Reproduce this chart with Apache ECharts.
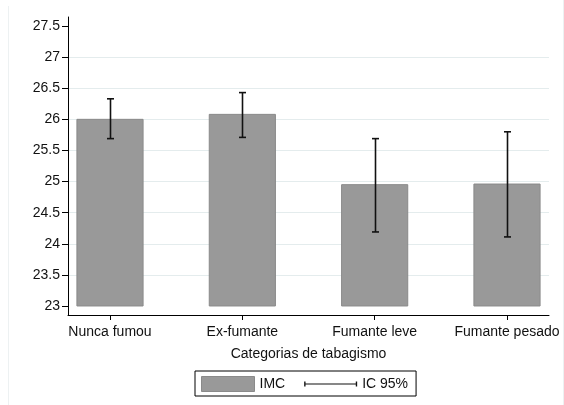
<!DOCTYPE html>
<html>
<head>
<meta charset="utf-8">
<script src="https://cdn.jsdelivr.net/npm/echarts@6/dist/echarts.min.js"></script>
<style>
  html, body { margin: 0; padding: 0; background: #fff; }
  #chart { width: 564px; height: 405px; }
</style>
</head>
<body>
<div id="chart"></div>
<script>
// Mean BMI (IMC) by smoking category, with 95% confidence intervals
const categories = ['Nunca fumou', 'Ex-fumante', 'Fumante leve', 'Fumante pesado'];
const imcMeans = [26.00, 26.08, 24.95, 24.96];
const ciLower = [25.69, 25.71, 24.19, 24.11];
const ciUpper = [26.33, 26.43, 25.69, 25.80];
const yTickValues = [23, 23.5, 24, 24.5, 25, 25.5, 26, 26.5, 27, 27.5];
const gridLineValues = [23.5, 24, 24.5, 25, 25.5, 26, 26.5, 27];
const barBase = 23;

const FONT = "'Liberation Sans', Arial, Helvetica, sans-serif";
const TEXT = '#111';

const chart = echarts.init(document.getElementById('chart'), null, { renderer: 'canvas' });

const categoryIdx = categories.map((_, i) => i);

const option = {
  backgroundColor: '#fff',
  animation: false,
  textStyle: { fontFamily: FONT },
  graphic: [
    { type: 'line', shape: { x1: 8.5, y1: 6, x2: 8.5, y2: 405 }, style: { stroke: '#edf1f2', lineWidth: 1 }, silent: true },
    { type: 'line', shape: { x1: 563.5, y1: 0, x2: 563.5, y2: 405 }, style: { stroke: '#edf1f2', lineWidth: 1 }, silent: true }
  ],
  grid: { left: 68, right: 15, top: 17, bottom: 90, containLabel: false },
  legend: {
    left: 195,
    top: 371,
    orient: 'horizontal',
    padding: [5, 8, 4, 6],
    borderColor: '#000',
    borderWidth: 1,
    borderRadius: 0,
    itemWidth: 53,
    itemHeight: 15,
    itemGap: 19,
    selectedMode: false,
    textStyle: { fontFamily: FONT, fontSize: 14, color: TEXT },
    data: [
      { name: 'IMC', icon: 'rect', itemStyle: { color: '#999999', borderColor: '#8a8a8a', borderWidth: 1 } },
      { name: 'IC 95%', icon: 'path://M0,0h1.4v5h-1.4z M0,2h54v1h-54z M52.6,0h1.4v5h-1.4z', itemStyle: { color: '#111', borderWidth: 0 } }
    ]
  },
  xAxis: {
    type: 'value',
    min: -0.3174,
    max: 3.3174,
    name: 'Categorias de tabagismo',
    nameLocation: 'middle',
    nameGap: 32,
    nameTextStyle: { fontFamily: FONT, fontSize: 14, color: TEXT },
    axisLine: { show: true, onZero: false, lineStyle: { color: '#000', width: 1 } },
    axisTick: { show: true, customValues: categoryIdx, length: 5, lineStyle: { color: '#000' } },
    axisLabel: {
      show: true,
      customValues: categoryIdx,
      margin: 10,
      fontFamily: FONT,
      fontSize: 14,
      color: TEXT,
      formatter: v => categories[Math.round(v)]
    },
    splitLine: { show: false }
  },
  yAxis: {
    type: 'value',
    min: 22.855,
    max: 27.645,
    axisLine: { show: true, onZero: false, lineStyle: { color: '#000', width: 1 } },
    axisTick: { show: true, customValues: yTickValues, length: 6, lineStyle: { color: '#000' } },
    axisLabel: {
      show: true,
      customValues: yTickValues,
      margin: 8,
      fontFamily: FONT,
      fontSize: 14,
      color: TEXT,
      formatter: v => String(v)
    },
    splitLine: { show: false }
  },
  series: [
    {
      // horizontal reference lines, kept behind the bars
      type: 'line',
      name: 'grade',
      data: [],
      z: 0,
      silent: true,
      markLine: {
        z: 0,
        silent: true,
        symbol: 'none',
        label: { show: false },
        lineStyle: { color: '#e4eced', width: 1, type: 'solid' },
        data: gridLineValues.map(v => ({ yAxis: v }))
      }
    },
    {
      type: 'custom',
      name: 'IMC',
      z: 4,
      data: categories.map((_, i) => [i, imcMeans[i]]),
      renderItem: (params, api) => {
        const i = api.value(0);
        const top = api.coord([i, api.value(1)]);
        const base = api.coord([i, barBase]);
        const w = api.size([0.5, 0])[0];
        return {
          type: 'rect',
          shape: { x: top[0] - w / 2, y: top[1], width: w, height: base[1] - top[1] },
          style: { fill: '#999999', stroke: '#8a8a8a', lineWidth: 1 }
        };
      }
    },
    {
      type: 'custom',
      name: 'IC 95%',
      z: 6,
      data: categories.map((_, i) => [i, ciLower[i], ciUpper[i]]),
      renderItem: (params, api) => {
        const i = api.value(0);
        const lo = api.coord([i, api.value(1)]);
        const hi = api.coord([i, api.value(2)]);
        const x = Math.round(lo[0]) + 0.5;
        const cap = 3.5;
        const st = { stroke: '#111', lineWidth: 1.6 };
        return {
          type: 'group',
          children: [
            { type: 'line', shape: { x1: x, y1: hi[1], x2: x, y2: lo[1] }, style: st },
            { type: 'line', shape: { x1: x - cap, y1: hi[1], x2: x + cap, y2: hi[1] }, style: st },
            { type: 'line', shape: { x1: x - cap, y1: lo[1], x2: x + cap, y2: lo[1] }, style: st }
          ]
        };
      }
    }
  ]
};

chart.setOption(option);
</script>
</body>
</html>
